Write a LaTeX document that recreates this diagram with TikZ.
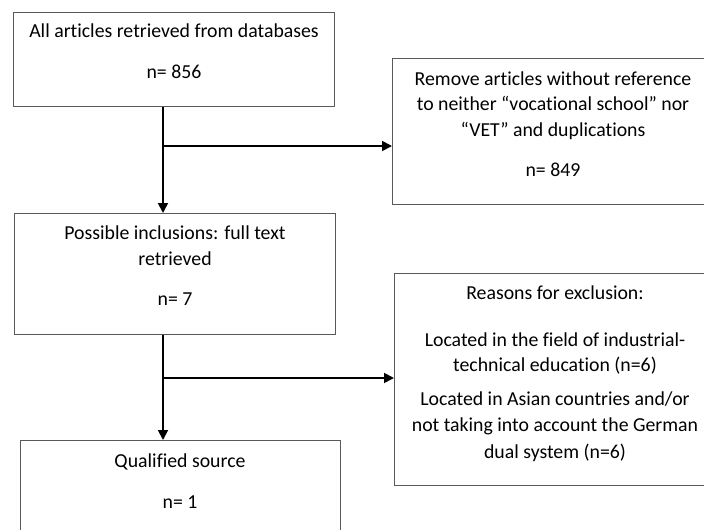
\documentclass[tikz,border=0pt]{standalone}
\usepackage{fontspec}
\setmainfont{Carlito}[Ligatures=CommonOff]
\usetikzlibrary{arrows.meta}
\begin{document}
\begin{tikzpicture}[x=1pt,y=-1pt,
  box/.style={draw=black!65,line width=1.2pt,rectangle,anchor=north west,inner sep=0pt},
  txt/.style={font=\fontsize{19.8}{25.5}\selectfont,inner sep=0pt,text height=15pt,text depth=3pt},
  arr/.style={draw=black,line width=1.8pt,-{Triangle[length=10pt,width=10pt]}}]
\useasboundingbox (0,0) rectangle (704,530);
\begin{scope}
\clip (0,0) rectangle (704,530);
\node[box,minimum width=321pt,minimum height=94pt] (b1) at (13,12) {};
\node[box,minimum width=322pt,minimum height=146pt] (b2) at (392,58) {};
\node[box,minimum width=321pt,minimum height=121pt] (b3) at (14,213) {};
\node[box,minimum width=320pt,minimum height=110pt] (b4) at (20,440) {};
\node[box,minimum width=322pt,minimum height=212pt] (b5) at (394,273) {};
\end{scope}
\node[txt] (t1a) at (174,31) {All articles retrieved from databases};
\node[txt] (t1b) at (174,72) {n= 856};
\node[txt] (t2a) at (553,79) {Remove articles without reference};
\node[txt] (t2b) at (553,104.5) {to neither “vocational school” nor};
\node[txt] (t2c) at (553,130) {“VET” and duplications};
\node[txt] (t2d) at (553,170) {n= 849};
\node[txt] (t3a) at (175,233) {Possible inclusions: full text};
\node[txt] (t3b) at (175,259) {retrieved};
\node[txt] (t3c) at (175,299) {n= 7};
\node[txt] (t4a) at (180,461) {Qualified source};
\node[txt] (t4b) at (180,502) {n= 1};
\node[txt] (t5a) at (555,293) {Reasons for exclusion:};
\node[txt] (t5b) at (555,340) {Located in the field of industrial-};
\node[txt] (t5c) at (555,365) {technical education (n=6)};
\node[txt] (t5d) at (555,399) {Located in Asian countries and/or};
\node[txt] (t5e) at (555,425) {not taking into account the German};
\node[txt] (t5f) at (555,452) {dual system (n=6)};
\coordinate (j1) at (163,146);
\coordinate (j2) at (163,378);
\draw[arr] (b1.south -| j1) -- (b3.north -| j1);
\draw[arr] (j1) -- (j1 -| b2.west);
\draw[arr] (b3.south -| j2) -- (b4.north -| j2);
\draw[arr] (j2) -- (j2 -| b5.west);
\end{tikzpicture}
\end{document}
